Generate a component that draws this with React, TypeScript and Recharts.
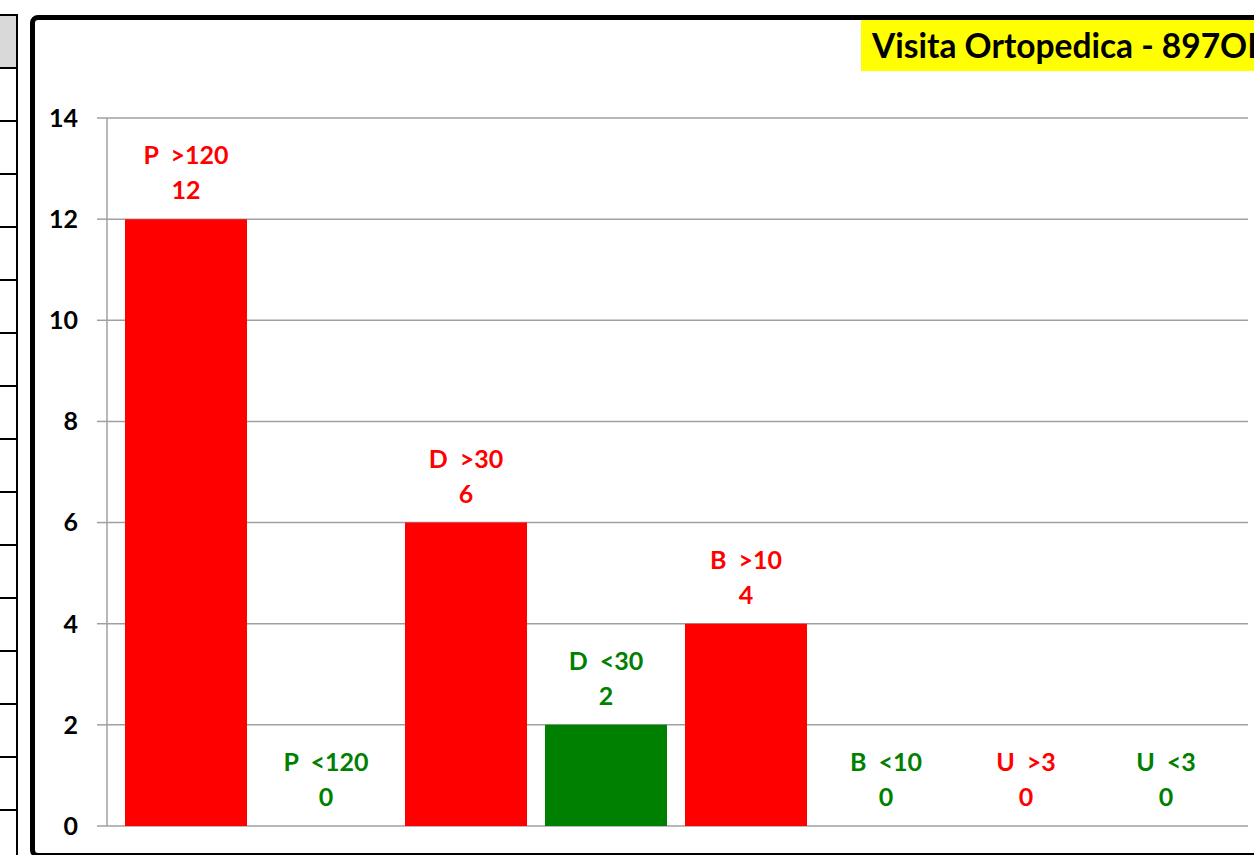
import React from "react";
import { ComposedChart, Bar, Line, XAxis, YAxis, CartesianGrid, Cell, LabelList } from "recharts";

const categories = ["P  >120", "P  <120", "D  >30", "D  <30", "B  >10", "B  <10", "U  >3", "U  <3"];
const values = [12, 0, 6, 2, 4, 0, 0, 0];
const yTicks = [0, 2, 4, 6, 8, 10, 12, 14];
const title = "Visita Ortopedica - 897OI";

const RED = "#ff0000";
const GREEN = "#008000";
const FONT = "Lato, 'Open Sans', sans-serif";

const data = categories.map((c, i) => ({ name: c, value: values[i] }));
const colorOf = (name: string) => (name.includes(">") ? RED : GREEN);

const renderLabel = (props: any) => {
  const { x, y, index } = props;
  const item = data[index];
  if (!item) return null;
  const cx = Number(x);
  const top = Number(y);
  const fill = colorOf(item.name);
  return (
    <g>
      <text
        x={cx}
        y={top - 65}
        textAnchor="middle"
        dominantBaseline="central"
        fill={fill}
        style={{ fontFamily: FONT, fontWeight: 700, fontSize: 25, whiteSpace: "pre" }}
      >
        {item.name}
      </text>
      <text
        x={cx}
        y={top - 30}
        textAnchor="middle"
        dominantBaseline="central"
        fill={fill}
        style={{ fontFamily: FONT, fontWeight: 700, fontSize: 25 }}
      >
        {item.value}
      </text>
    </g>
  );
};

const rowLines = Array.from({ length: 16 }, (_, i) => 14 + i * 53);

export default function App() {
  return (
    <div
      style={{
        position: "fixed",
        left: 0,
        top: 0,
        width: 1254,
        height: 855,
        overflow: "hidden",
        background: "#ffffff",
        fontFamily: FONT,
      }}
    >
      {/* left table fragment */}
      <div style={{ position: "absolute", left: 0, top: 15, width: 17, height: 52, background: "#d9d9d9" }} />
      {rowLines.map((y, i) => (
        <div key={i} style={{ position: "absolute", left: 0, top: y, width: 18, height: 2, background: "#000" }} />
      ))}
      <div style={{ position: "absolute", left: 16, top: 14, width: 2, height: 860, background: "#000" }} />

      {/* chart frame */}
      <div
        style={{
          position: "absolute",
          left: 30,
          top: 15,
          width: 1300,
          height: 843,
          border: "5px solid #000",
          borderRadius: 8,
          boxSizing: "border-box",
          background: "#fff",
        }}
      />

      {/* title box */}
      <div
        style={{
          position: "absolute",
          left: 861,
          top: 20,
          width: 460,
          height: 51,
          background: "#ffff00",
          boxSizing: "border-box",
          paddingLeft: 11,
          lineHeight: "51px",
          fontSize: 33.5,
          fontWeight: 700,
          color: "#000",
          whiteSpace: "nowrap",
        }}
      >
        {title}
      </div>

      <div style={{ position: "absolute", left: 0, top: 0 }}>
        <ComposedChart
          width={1260}
          height={860}
          data={data}
          margin={{ top: 118, right: 12, bottom: 34, left: 0 }}
        >
          <CartesianGrid vertical={false} stroke="#a0a0a0" strokeWidth={1.5} />
          <XAxis dataKey="name" hide padding={{ left: 9, right: 12 }} />
          <YAxis
            width={107}
            domain={[0, 14]}
            ticks={yTicks}
            interval={0}
            tickSize={10}
            tickMargin={19}
            axisLine={{ stroke: "#a0a0a0", strokeWidth: 1.5 }}
            tickLine={{ stroke: "#a0a0a0", strokeWidth: 1.5 }}
            tick={{ fill: "#000", fontFamily: FONT, fontWeight: 700, fontSize: 25 }}
          />
          <Bar dataKey="value" barSize={122} isAnimationActive={false}>
            {data.map((d, i) => (
              <Cell key={i} fill={colorOf(d.name)} />
            ))}
          </Bar>
          <Line
            dataKey="value"
            stroke="none"
            dot={false}
            activeDot={false}
            legendType="none"
            isAnimationActive={false}
          >
            <LabelList dataKey="value" content={renderLabel} />
          </Line>
        </ComposedChart>
      </div>
    </div>
  );
}
